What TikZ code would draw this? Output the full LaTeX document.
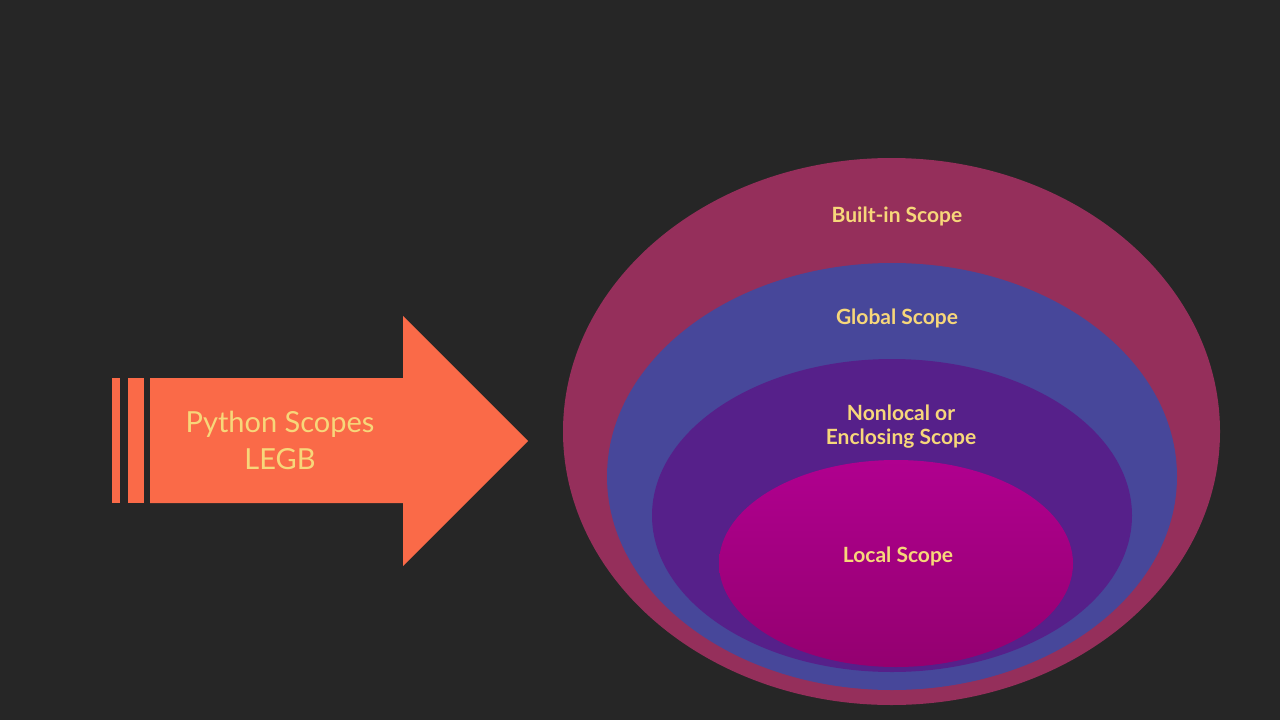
\documentclass[tikz,border=0pt]{standalone}
\usepackage{fontspec}
\setmainfont{Lato}
\begin{document}
\begin{tikzpicture}[x=1pt,y=-1pt,
  lbl/.style={text=txt,font=\fontsize{21}{24}\selectfont\bfseries,align=center},
  big/.style={text=txt,font=\fontsize{29}{37}\selectfont,align=center}]
\definecolor{bg}{HTML}{262626}
\definecolor{txt}{HTML}{F7D77A}
\definecolor{orng}{HTML}{FA6A48}
\definecolor{c1}{HTML}{952F5B}
\definecolor{c2}{HTML}{47479A}
\definecolor{c3}{HTML}{56208A}
\definecolor{c4a}{HTML}{B0008F}
\definecolor{c4b}{HTML}{940070}
\fill[bg] (0,0) rectangle (1280,720);
\useasboundingbox (0,0) rectangle (1280,720);
% arrow
\fill[orng] (150,378) -- (403,378) -- (403,316) -- (528,441) -- (403,566) -- (403,503) -- (150,503) -- cycle;
\fill[orng] (112,378) rectangle (120,503);
\fill[orng] (128,378) rectangle (144,503);
\node[big] (py) at (280,440) {Python Scopes\\LEGB};
% ellipses
\fill[c1] (891.5,431.5) ellipse [x radius=328.5, y radius=273.5];
\fill[c2] (892,476.5) ellipse [x radius=285, y radius=213.5];
\fill[c3] (892,515.5) ellipse [x radius=240, y radius=156.5];
\shade[top color=c4a,bottom color=c4b] (896,563.5) ellipse [x radius=177, y radius=103.5];
\node[lbl] (b) at (897,216) {Built-in Scope};
\node[lbl] (g) at (897,318) {Global Scope};
\node[lbl] (n) at (901,427) {Nonlocal or\\Enclosing Scope};
\node[lbl] (l) at (898,556) {Local Scope};
\end{tikzpicture}
\end{document}
